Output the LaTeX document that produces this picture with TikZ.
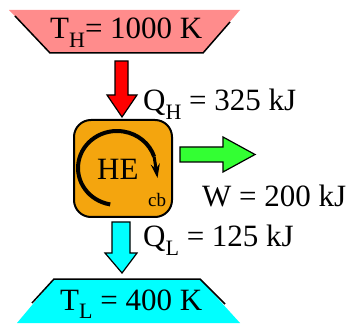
\documentclass[tikz,border=0pt]{standalone}
\usepackage{fontspec}
\setmainfont{Liberation Serif}
\usetikzlibrary{arrows.meta}
\definecolor{hotpink}{HTML}{FF8C8C}
\definecolor{heorange}{HTML}{F4A50E}
\definecolor{wgreen}{HTML}{33FF33}
\definecolor{coldcyan}{HTML}{00FFFF}
\newcommand\sbs[1]{\raisebox{-0.27em}{\fontsize{22}{24}\selectfont #1}}
\tikzset{
  big/.style={font=\fontsize{31}{36}\selectfont, inner sep=0pt, anchor=base west},
  arrowshape/.style={draw=black, line width=1.2pt, line join=miter},
}
\begin{document}
\begin{tikzpicture}[x=1pt,y=1pt]
\useasboundingbox (0,0) rectangle (352,323);
% hot reservoir
\fill[hotpink] (9,313) -- (240,313) -- (203,270) -- (50,270) -- cycle;
\draw[line width=1.5pt] (15,307) -- (50,270) -- (203,270) -- (230,301);
\node[big] (th) at (50,284) {T\sbs{H}= 1000 K};
% red arrow
\draw[arrowshape, fill=red] (115,262) -- (128,262) -- (128,228) -- (137,228) -- (122,206) -- (107,228) -- (115,228) -- cycle;
\node[big] (qh) at (143,212) {Q\sbs{H} = 325 kJ};
% heat engine
\node[draw=black, line width=2pt, fill=heorange, rounded corners=17pt, minimum width=98pt, minimum height=97pt, inner sep=0pt] (he) at (123,154.5) {};
\draw[line width=4pt] (117,155) ++(260:39 and 37) arc[start angle=260, end angle=18, x radius=39, y radius=37]
  coordinate (arcend);
\draw[line width=3pt, -{Stealth[length=14pt, width=9pt]}] (arcend) -- (157.5,145);
\node[big] (helabel) at (97,143) {HE};
\node[font=\fontsize{19}{22}\selectfont, inner sep=0pt, anchor=base west] (cb) at (148,116) {cb};
% work arrow
\draw[arrowshape, fill=wgreen] (180,176) -- (223,176) -- (223,186) -- (255,168.5) -- (223,151) -- (223,161) -- (180,161) -- cycle;
\node[big] (w) at (202,116) {W = 200 kJ};
% cold arrow
\draw[arrowshape, fill=coldcyan] (112,101) -- (130,101) -- (130,70) -- (137,70) -- (122,50) -- (105,70) -- (112,70) -- cycle;
\node[big] (ql) at (143,76) {Q\sbs{L} = 125 kJ};
% cold reservoir
\fill[coldcyan] (54,44) -- (200,44) -- (240,0) -- (17,0) -- cycle;
\draw[line width=1.5pt] (32,20) -- (54,44) -- (200,44) -- (225,19);
\node[big] (tl) at (60,13) {T\sbs{L} = 400 K};
\end{tikzpicture}
\end{document}
